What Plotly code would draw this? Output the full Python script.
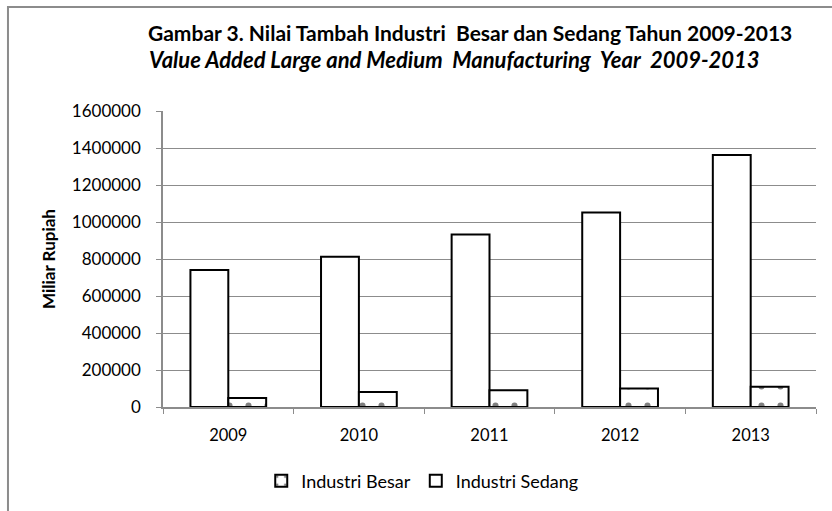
import plotly.graph_objects as go

years = ["2009", "2010", "2011", "2012", "2013"]
sedang = [740000, 812000, 932000, 1052000, 1362000]
besar = [49000, 81000, 90000, 100000, 110000]
y_ticks = [0, 200000, 400000, 600000, 800000, 1000000, 1200000, 1400000, 1600000]

FONT = "Lato"

fig = go.Figure()
fig.add_trace(go.Bar(
    x=years, y=sedang, name="Industri Sedang", legendrank=2,
    marker=dict(color="white", line=dict(color="black", width=2)),
))
fig.add_trace(go.Bar(
    x=years, y=besar, name="Industri Besar", legendrank=1,
    marker=dict(color="white", line=dict(color="black", width=2),
                pattern=dict(shape=".", fgcolor="black", bgcolor="white",
                             size=19, solidity=0.08)),
))

fig.update_layout(
    width=832, height=511,
    margin=dict(l=163, r=16, t=111, b=104, autoexpand=False),
    paper_bgcolor="white", plot_bgcolor="white",
    barmode="group", bargap=0.42, bargroupgap=0,
    font=dict(family=FONT, size=16, color="black"),
    showlegend=True,
    legend=dict(orientation="h", x=0.397, xanchor="center", xref="paper",
                y=-0.25, yanchor="middle", font=dict(size=18, family=FONT),
                traceorder="normal", itemwidth=30, tracegroupgap=0),
    xaxis=dict(showline=True, linecolor="#8c8c8c", linewidth=1.5,
               ticks="outside", tickson="boundaries", ticklen=5,
               tickcolor="#8c8c8c", tickfont=dict(size=16.5),
               ticklabelstandoff=12, automargin=False),
    yaxis=dict(range=[0, 1600000], tickvals=y_ticks,
               ticktext=[str(v) for v in y_ticks],
               showgrid=True, gridcolor="#8c8c8c", gridwidth=1.2,
               showline=True, linecolor="#8c8c8c", linewidth=1.5,
               ticks="outside", ticklen=5, tickcolor="#8c8c8c",
               tickfont=dict(size=17), zeroline=False,
               ticklabelstandoff=12, automargin=False,
               title=dict(text="<b>Miliar Rupiah</b>", font=dict(size=17),
                          standoff=12)),
    annotations=[
        dict(text="<b>Gambar 3. Nilai Tambah Industri  Besar dan Sedang Tahun 2009-2013</b>",
             xref="paper", yref="paper", x=0.47, y=1.0, yshift=79,
             xanchor="center", yanchor="middle", showarrow=False,
             font=dict(size=21, family=FONT)),
        dict(text="<b><i>Value Added Large and Medium  Manufacturing  Year  2009-2013</i></b>",
             xref="paper", yref="paper", x=0.447, y=1.0, yshift=52,
             xanchor="center", yanchor="middle", showarrow=False,
             font=dict(size=22, family=FONT)),
    ],
    shapes=[dict(type="rect", xref="paper", yref="paper",
                 x0=-0.2374, x1=1.1, y0=-0.5, y1=1.351,
                 line=dict(color="#8c8c8c", width=2), fillcolor="rgba(0,0,0,0)",
                 layer="below")],
)

fig.write_html("out.html")
